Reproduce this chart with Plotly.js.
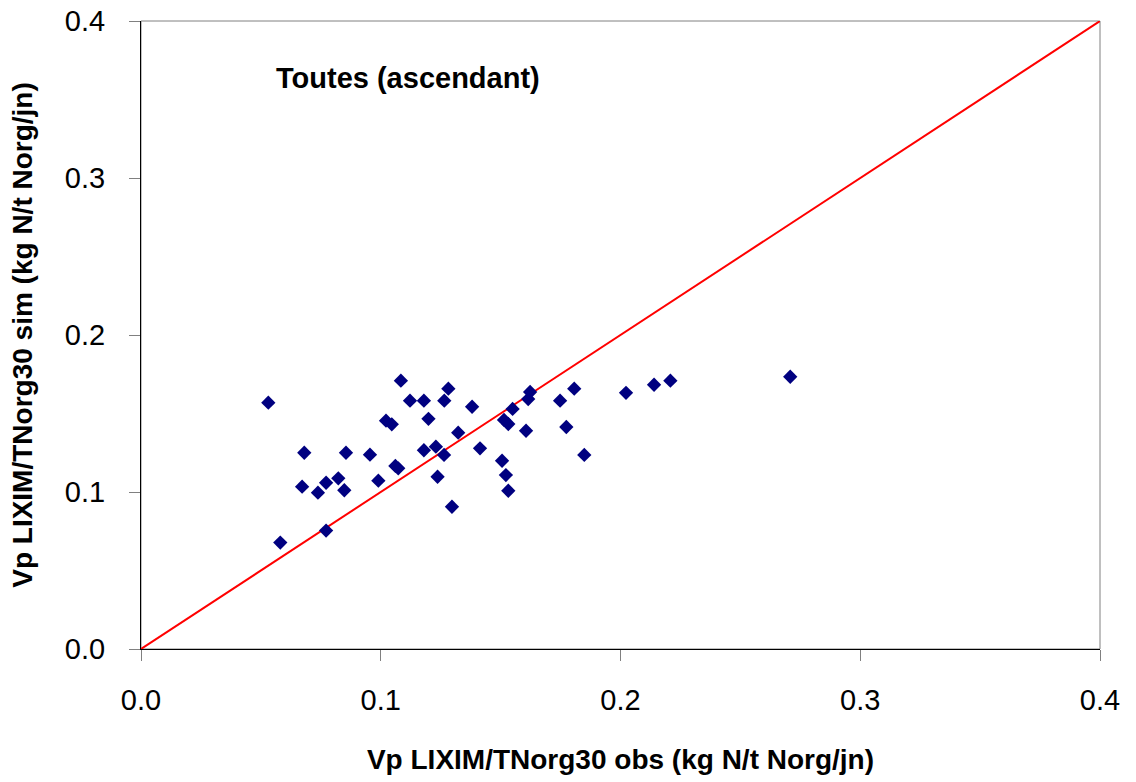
<!DOCTYPE html>
<html>
<head>
<meta charset="utf-8">
<script src="https://cdn.plot.ly/plotly-3.0.1.min.js"></script>
<style>html,body{margin:0;padding:0;background:#fff;}#chart{width:1136px;height:782px;}</style>
</head>
<body>
<div id="chart"></div>
<script>
const obsValues = [0.0531,0.0581,0.0672,0.0681,0.0738,0.0772,0.0772,0.0823,0.0848,0.0855,
  0.0955,0.0990,0.1022,0.1046,0.1061,0.1073,0.1084,0.1122,0.1180,0.1180,
  0.1199,0.1230,0.1237,0.1264,0.1265,0.1282,0.1297,0.1323,0.1381,0.1414,
  0.1506,0.1514,0.1532,0.1522,0.1532,0.1550,0.1606,0.1615,0.1623,0.1748,
  0.1774,0.1807,0.1849,0.2023,0.2140,0.2208,0.2708];
const simValues = [0.1569,0.0678,0.1034,0.1250,0.0996,0.1059,0.0754,0.1087,0.1011,0.1250,
  0.1238,0.1072,0.1454,0.1431,0.1166,0.1151,0.1709,0.1582,0.1582,0.1266,
  0.1466,0.1289,0.1097,0.1236,0.1582,0.1658,0.0906,0.1378,0.1543,0.1278,
  0.1199,0.1459,0.1433,0.1108,0.1008,0.1529,0.1390,0.1592,0.1637,0.1582,
  0.1414,0.1658,0.1236,0.1632,0.1683,0.1709,0.1734];
const lineX = [0, 0.4];
const lineY = [0, 0.4];
const tickVals = [0, 0.1, 0.2, 0.3, 0.4];
const tickText = ["0.0", "0.1", "0.2", "0.3", "0.4"];
const xTitle = "Vp LIXIM/TNorg30 obs (kg N/t Norg/jn)";
const yTitle = "Vp LIXIM/TNorg30 sim (kg N/t Norg/jn)";
const panelLabel = "Toutes (ascendant)";

const font = "Liberation Sans, Arial, sans-serif";

const traces = [
  {x: lineX, y: lineY, mode: "lines", type: "scatter",
   line: {color: "#ff0000", width: 2}, hoverinfo: "skip", cliponaxis: true},
  {x: obsValues, y: simValues, mode: "markers", type: "scatter",
   marker: {symbol: "diamond", color: "#000080", size: 11, line: {width: 0}}}
];

const axisCommon = {
  range: [0, 0.4], tickvals: tickVals, ticktext: tickText,
  showgrid: false, zeroline: false, showline: true, linecolor: "#000000", linewidth: 1,
  ticks: "outside", ticklen: 11, tickcolor: "#808080", tickwidth: 1,
  tickfont: {family: font, size: 29, color: "#000000"}, fixedrange: true
};

const layout = {
  width: 1136, height: 782,
  margin: {l: 141, r: 36, t: 21, b: 133},
  paper_bgcolor: "#ffffff", plot_bgcolor: "#ffffff",
  showlegend: false,
  xaxis: Object.assign({}, axisCommon, {
    ticklabelstandoff: 14,
    title: {text: xTitle, font: {family: font, size: 28, color: "#000000", weight: "bold"}, standoff: 34}
  }),
  yaxis: Object.assign({}, axisCommon, {
    ticklabelstandoff: 18,
    title: {text: yTitle, font: {family: font, size: 28, color: "#000000", weight: "bold"}, standoff: 24}
  }),
  shapes: [{type: "rect", xref: "paper", yref: "paper", x0: 0, y0: 0, x1: 1, y1: 1,
    line: {color: "#808080", width: 1}, layer: "below"}],
  annotations: [{
    x: 0.0555, y: 0.3637, xref: "x", yref: "y", xanchor: "left", yanchor: "middle",
    text: "<b>" + panelLabel + "</b>", showarrow: false,
    font: {family: font, size: 29, color: "#000000"}
  }]
};

Plotly.newPlot("chart", traces, layout, {staticPlot: true, displayModeBar: false});
</script>
</body>
</html>
